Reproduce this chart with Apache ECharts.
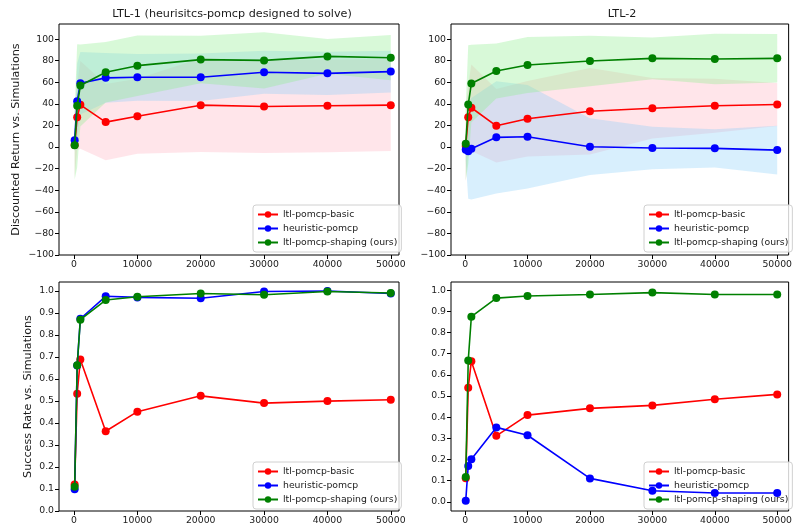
<!DOCTYPE html>
<html>
<head>
<meta charset="utf-8">
<script src="https://cdn.jsdelivr.net/npm/echarts@6/dist/echarts.min.js"></script>
<style>
html,body{margin:0;padding:0;background:#fff;}
#chart{width:795px;height:525px;}
</style>
</head>
<body>
<div id="chart"></div>
<script>
// ---- data ----
const simulations = [100, 500, 1000, 5000, 10000, 20000, 30000, 40000, 50000];
const xTicks = [0, 10000, 20000, 30000, 40000, 50000];
const returnTicks = [-100, -80, -60, -40, -20, 0, 20, 40, 60, 80, 100];
const rateTicks = [0, 0.1, 0.2, 0.3, 0.4, 0.5, 0.6, 0.7, 0.8, 0.9, 1.0];
const seriesNames = ['ltl-pomcp-basic', 'heuristic-pomcp', 'ltl-pomcp-shaping (ours)'];
const titles = ['LTL-1 (heurisitcs-pomcp designed to solve)', 'LTL-2'];

// LTL-1 discounted return (mean, spread)
const ltl1BasicReturn = [2, 27.7, 39.1, 23.1, 28.6, 38.8, 37.6, 38.2, 38.8];
const ltl1BasicSpread = [30, 30, 40.6, 35.4, 34.7, 43.4, 43.1, 43, 42.5];
const ltl1HeurReturn = [6.2, 42.5, 59.1, 64.1, 64.6, 64.6, 69.3, 68.3, 69.9];
const ltl1HeurSpread = [10, 35, 29, 23, 21.6, 22, 20, 20, 19.4];
const ltl1ShapReturn = [1.6, 38.2, 57, 69.3, 75.4, 81, 80.3, 84, 82.8];
const ltl1ShapSpread = [32, 57, 38, 28, 28, 22, 26, 16, 21];

// LTL-2 discounted return (mean, spread)
const ltl2BasicReturn = [1, 27.7, 36.4, 19.7, 26.2, 33.2, 36, 38.2, 39.4];
const ltl2BasicSpread = [33, 30, 40, 34, 35, 40, 28, 25, 20];
const ltl2HeurReturn = [-2.4, -4, -1.5, 9, 9.6, 0.3, -0.9, -1.2, -2.8];
const ltl2HeurSpread = [10, 44, 47, 52, 48, 26.3, 19.7, 17.8, 22.6];
const ltl2ShapReturn = [3.1, 39.4, 58.8, 70.5, 76, 79.7, 82.2, 81.6, 82.2];
const ltl2ShapSpread = [34, 55, 36, 25.5, 26, 23.3, 19.4, 23.4, 22.5];

// success rates
const ltl1BasicRate = [0.120, 0.533, 0.688, 0.362, 0.451, 0.523, 0.490, 0.499, 0.505];
const ltl1HeurRate = [0.099, 0.661, 0.873, 0.975, 0.970, 0.966, 0.997, 0.999, 0.988];
const ltl1ShapRate = [0.110, 0.662, 0.869, 0.958, 0.973, 0.988, 0.982, 0.997, 0.990];
const ltl2BasicRate = [0.112, 0.539, 0.665, 0.312, 0.410, 0.442, 0.456, 0.485, 0.508];
const ltl2HeurRate = [0.006, 0.170, 0.201, 0.352, 0.315, 0.111, 0.053, 0.042, 0.042];
const ltl2ShapRate = [0.118, 0.668, 0.875, 0.963, 0.973, 0.980, 0.989, 0.980, 0.980];

// ---- styling ----
const FONT = 'DejaVu Sans';
const TICK_FS = 9.3;
const LABEL_FS = 11.2;
const lineColors = ['#ff0000', '#0000ff', '#008000'];
const bandColors = ['rgba(255,170,185,0.30)', 'rgba(135,206,250,0.32)', 'rgba(144,238,144,0.35)'];

const grids = [
  {left: 59, top: 24, width: 340, height: 231},
  {left: 451, top: 24, width: 342, height: 231},
  {left: 59, top: 282, width: 340, height: 231},
  {left: 451, top: 282, width: 342, height: 231}
];
const xRanges = [[-2370, 51300], [-2260, 51830], [-2370, 51300], [-2260, 51830]];
const yRanges = [[-100, 114], [-100, 114], [0, 1.04], [-0.043, 1.039]];

function fmtReturn(v) { return v < 0 ? '\u2212' + Math.abs(v) : String(v); }
function fmtRate(v) { return Number(v).toFixed(1); }

const xAxis = grids.map((g, i) => ({
  type: 'value', gridIndex: i, min: xRanges[i][0], max: xRanges[i][1],
  axisLine: {show: false, onZero: false},
  splitLine: {show: false},
  axisTick: {show: true, length: 4, customValues: xTicks, lineStyle: {color: '#000', width: 1}},
  axisLabel: {show: true, customValues: xTicks, margin: 5, fontFamily: FONT, fontSize: TICK_FS, color: '#1a1a1a',
    formatter: v => String(v)}
}));

const yAxis = grids.map((g, i) => {
  const isReturn = i < 2;
  const ticks = isReturn ? returnTicks : rateTicks;
  const ax = {
    type: 'value', gridIndex: i, min: yRanges[i][0], max: yRanges[i][1],
    axisLine: {show: false, onZero: false},
    splitLine: {show: false},
    axisTick: {show: true, length: 4, customValues: ticks, lineStyle: {color: '#000', width: 1}},
    axisLabel: {show: true, customValues: ticks, margin: 5, fontFamily: FONT, fontSize: TICK_FS, color: '#1a1a1a',
      formatter: isReturn ? fmtReturn : fmtRate}
  };
  if (i === 0) {
    ax.name = 'Discounted Return vs. Simulations';
  } else if (i === 2) {
    ax.name = 'Success Rate vs. Simulations';
  }
  if (ax.name) {
    ax.nameLocation = 'middle';
    ax.nameRotate = 90;
    ax.nameGap = i === 0 ? 37 : 25;
    ax.nameTextStyle = {fontFamily: FONT, fontSize: LABEL_FS, color: '#1a1a1a'};
  }
  return ax;
});

const series = [];
function addBand(idx, mean, spread, k) {
  series.push({
    type: 'custom', xAxisIndex: idx, yAxisIndex: idx, z: 1, silent: true, clip: true, animation: false,
    data: simulations.map((x, j) => [x, mean[j] - spread[j], mean[j] + spread[j]]),
    renderItem: function (params, api) {
      if (params.dataIndexInside !== 0) return null;
      const n = params.dataInsideLength;
      const pts = [];
      for (let j = 0; j < n; j++) pts.push(api.coord([api.value(0, j), api.value(2, j)]));
      for (let j = n - 1; j >= 0; j--) pts.push(api.coord([api.value(0, j), api.value(1, j)]));
      return {
        type: 'polygon',
        shape: {points: pts},
        style: {fill: bandColors[k], stroke: null}
      };
    }
  });
}
function addLine(idx, values, k) {
  series.push({
    name: seriesNames[k], type: 'line', xAxisIndex: idx, yAxisIndex: idx, z: 3 + k,
    symbol: 'circle', symbolSize: 8, animation: false,
    lineStyle: {color: lineColors[k], width: 1.6},
    itemStyle: {color: lineColors[k]},
    data: simulations.map((x, j) => [x, values[j]])
  });
}

addBand(0, ltl1BasicReturn, ltl1BasicSpread, 0);
addBand(0, ltl1HeurReturn, ltl1HeurSpread, 1);
addBand(0, ltl1ShapReturn, ltl1ShapSpread, 2);
addLine(0, ltl1BasicReturn, 0);
addLine(0, ltl1HeurReturn, 1);
addLine(0, ltl1ShapReturn, 2);

addBand(1, ltl2BasicReturn, ltl2BasicSpread, 0);
addBand(1, ltl2HeurReturn, ltl2HeurSpread, 1);
addBand(1, ltl2ShapReturn, ltl2ShapSpread, 2);
addLine(1, ltl2BasicReturn, 0);
addLine(1, ltl2HeurReturn, 1);
addLine(1, ltl2ShapReturn, 2);

addLine(2, ltl1BasicRate, 0);
addLine(2, ltl1HeurRate, 1);
addLine(2, ltl1ShapRate, 2);

addLine(3, ltl2BasicRate, 0);
addLine(3, ltl2HeurRate, 1);
addLine(3, ltl2ShapRate, 2);

const legendPos = [[253, 205], [644, 205], [253, 462], [644, 462]];
const legend = legendPos.map(p => ({
  orient: 'vertical', left: p[0], top: p[1], data: seriesNames,
  backgroundColor: 'rgba(255,255,255,0.8)', borderColor: '#d0d0d0', borderWidth: 1, borderRadius: 3,
  padding: [4, 4, 4, 4], itemWidth: 20, itemHeight: 8, itemGap: 3, selectedMode: false,
  textStyle: {fontFamily: FONT, fontSize: TICK_FS, color: '#1a1a1a', lineHeight: 11}
}));

const option = {
  backgroundColor: '#fff',
  animation: false,
  grid: grids.map(g => Object.assign({show: true, borderColor: '#000', borderWidth: 1, backgroundColor: 'transparent'}, g)),
  xAxis: xAxis,
  yAxis: yAxis,
  legend: legend,
  graphic: [
    {type: 'text', x: 232, y: 14, style: {text: titles[0], fontFamily: FONT, fontSize: LABEL_FS, fill: '#1a1a1a', textAlign: 'center', textVerticalAlign: 'middle'}},
    {type: 'text', x: 622, y: 14, style: {text: titles[1], fontFamily: FONT, fontSize: LABEL_FS, fill: '#1a1a1a', textAlign: 'center', textVerticalAlign: 'middle'}}
  ],
  series: series
};

const chart = echarts.init(document.getElementById('chart'), null, {renderer: 'canvas'});
chart.setOption(option);
</script>
</body>
</html>
